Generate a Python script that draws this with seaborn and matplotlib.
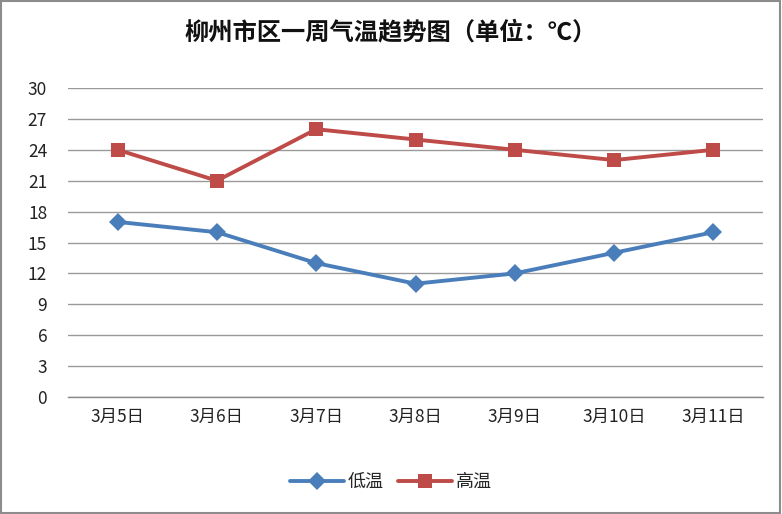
import matplotlib
matplotlib.use("Agg")
import matplotlib.pyplot as plt
import seaborn as sns
import pandas as pd
from matplotlib.patches import Rectangle

dates = ["3月5日", "3月6日", "3月7日", "3月8日", "3月9日", "3月10日", "3月11日"]
low = [17, 16, 13, 11, 12, 14, 16]
high = [24, 21, 26, 25, 24, 23, 24]
yticks = [0, 3, 6, 9, 12, 15, 18, 21, 24, 27, 30]

sns.set_theme(style="white")
plt.rcParams['font.family'] = ['Noto Sans CJK SC', 'DejaVu Sans']

fig = plt.figure(figsize=(7.82, 5.14), dpi=100)
ax = fig.add_axes([68/782, 1-397/514, (763-68)/782, (397-88)/514])

df = pd.DataFrame({"x": list(range(len(dates))) * 2,
                   "val": low + high,
                   "series": ["低温"] * len(dates) + ["高温"] * len(dates)})

sns.lineplot(data=df[df.series == "低温"], x="x", y="val", ax=ax, color="#4A7EBB",
             linewidth=2.8, marker="D", markersize=9.5, markeredgewidth=0, label="低温")
sns.lineplot(data=df[df.series == "高温"], x="x", y="val", ax=ax, color="#BE4B48",
             linewidth=2.8, marker="s", markersize=10.5, markeredgewidth=0, label="高温")

ax.set_xlim(-0.5, 6.5)
ax.set_ylim(0, 30)
ax.set_yticks(yticks)
ax.set_yticklabels([str(v) for v in yticks], fontsize=12.5, color="#222222")
ax.set_xticks(range(len(dates)))
ax.set_xticklabels(dates, fontsize=12.5, color="#222222")
ax.tick_params(axis='y', length=0, pad=15)
ax.tick_params(axis='x', length=0, pad=8)
ax.set_xlabel("")
ax.set_ylabel("")
ax.yaxis.grid(True, color="#9A9A9A", linewidth=1)
ax.set_axisbelow(True)
for s in ["top", "right", "left"]:
    ax.spines[s].set_visible(False)
ax.spines["bottom"].set_color("#8A8A8A")
ax.spines["bottom"].set_linewidth(1)

ax.legend(loc="center", bbox_to_anchor=(0.5, (514-482)/514), bbox_transform=fig.transFigure,
          ncol=2, frameon=False, fontsize=13, handlelength=3.0, columnspacing=0.8, handletextpad=0.2)

fig.text(0.5, 1-32/514, "柳州市区一周气温趋势图（单位：℃）", ha="center", va="center",
         fontsize=17.5, fontweight="bold", color="#111111")

fig.patches.append(Rectangle((0.001, 0.001), 0.997, 0.997, transform=fig.transFigure,
                             fill=False, edgecolor="#8C8C8C", linewidth=1.5))

fig.savefig("out.png", dpi=100, facecolor="white")
